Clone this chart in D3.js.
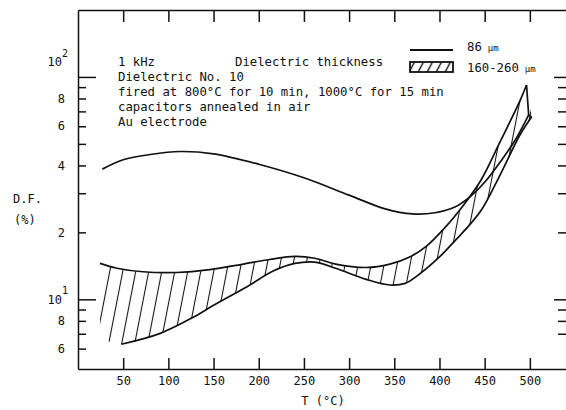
<!DOCTYPE html>
<html>
<head>
<meta charset="utf-8">
<script src="https://cdn.jsdelivr.net/npm/d3@7"></script>
<style>
  body { margin: 0; background: #fff; }
  text { font-family: "DejaVu Sans Mono", monospace; fill: #111; }
</style>
</head>
<body>
<script>
// T (degC) ticks along the bottom / top
const tTicks = [50, 100, 150, 200, 250, 300, 350, 400, 450, 500];
const yMajor = [10, 100];
const yMinor = [6, 7, 8, 9, 20, 30, 40, 50, 60, 70, 80, 90];
const yLabelValues = [100, 80, 60, 40, 20, 10, 8, 6];
const yLabelBase = ['10', '8', '6', '4', '2', '10', '8', '6'];
const yLabelExp = ['2', '', '', '', '', '1', '', ''];

// 86 um dielectric, D.F. (%) vs T
const thin86 = [
  [27, 38.5], [50, 42.4], [80, 44.8], [113, 46.2], [150, 45.1], [201, 40.4],
  [250, 35.2], [300, 29.4], [340, 25.5], [370, 24.2], [395, 24.5], [417, 26.0],
  [435, 29.2], [450, 33.6], [470, 43], [485, 53], [498.7, 67.5]
];

// 160-260 um band: upper and lower edges
const bandUpper = [
  [24.3, 14.5], [43, 13.8], [72, 13.3], [109, 13.2], [146, 13.6], [183, 14.4],
  [212, 15.1], [240, 15.6], [262, 15.3], [285, 14.4], [319, 13.9], [345, 14.4],
  [367, 15.5], [386, 17.4], [406, 21.0], [428, 27], [446, 34.4], [467, 51],
  [489, 78], [496.3, 92]
];
const bandLower = [
  [48, 6.28], [91, 7.03], [127.5, 8.3], [150, 9.4], [187, 11.4], [216, 13.4],
  [240, 14.5], [262, 14.7], [285, 13.8], [319, 12.3], [345, 11.6], [362, 11.8],
  [378, 13.0], [400, 15.5], [418, 18.5], [435, 22], [448, 25.8], [467, 36.2],
  [489, 54.8], [502, 66]
];
// where the hatching runs out below the band on the left (no edge drawn)
const hatchFloor = [[24.3, 6.6], [40, 6.38]];

const width = 566, height = 410;
const svg = d3.select('body').append('svg')
  .attr('width', width)
  .attr('height', height);

const x = d3.scaleLinear().domain([0, 540]).range([78, 566]);
const y = d3.scaleLog().domain([4.86, 200]).range([369, 10]);

const line = d3.line()
  .x(d => x(d[0]))
  .y(d => y(d[1]))
  .curve(d3.curveCatmullRom.alpha(0.5));

const defs = svg.append('defs');

defs.append('pattern')
  .attr('id', 'hatch')
  .attr('patternUnits', 'userSpaceOnUse')
  .attr('width', 13)
  .attr('height', 20)
  .attr('patternTransform', 'skewX(-11)')
  .append('line')
    .attr('x1', 6.5).attr('x2', 6.5)
    .attr('y1', 0).attr('y2', 20)
    .attr('stroke', '#111')
    .attr('stroke-width', 1.1);

defs.append('pattern')
  .attr('id', 'hatchKey')
  .attr('patternUnits', 'userSpaceOnUse')
  .attr('width', 9)
  .attr('height', 20)
  .attr('patternTransform', 'translate(410,62) skewX(-28)')
  .append('line')
    .attr('x1', 4.5).attr('x2', 4.5)
    .attr('y1', 0).attr('y2', 20)
    .attr('stroke', '#111')
    .attr('stroke-width', 1.6);

// band outline for the hatching
const bandPath = line(bandUpper)
  + line(hatchFloor.concat(bandLower).reverse()).replace(/^M/, 'L')
  + 'Z';

defs.append('clipPath')
  .attr('id', 'bandClip')
  .append('path')
    .attr('d', bandPath);

svg.append('rect')
  .attr('x', 70).attr('y', 0)
  .attr('width', width).attr('height', height)
  .attr('fill', 'url(#hatch)')
  .attr('clip-path', 'url(#bandClip)');

// axes
const styleAxis = g => {
  g.attr('font-family', null).attr('font-size', null);
  g.selectAll('path, line').attr('stroke', '#111').attr('stroke-width', 1.5);
};

svg.append('g')
  .attr('transform', `translate(0,${y(200)})`)
  .call(d3.axisTop(x).tickValues(tTicks).tickSize(-12).tickSizeOuter(0).tickFormat(''))
  .call(styleAxis);

svg.append('g')
  .attr('transform', `translate(0,${y.range()[0]})`)
  .call(d3.axisBottom(x).tickValues(tTicks).tickSize(-11).tickSizeOuter(0).tickPadding(7))
  .call(styleAxis)
  .call(g => g.selectAll('text').attr('font-size', 12).attr('fill', '#111'));

svg.append('g')
  .attr('transform', `translate(${x(0)},0)`)
  .call(d3.axisLeft(y).tickValues(yMinor).tickSize(-8).tickSizeOuter(0).tickFormat(''))
  .call(styleAxis);

svg.append('g')
  .attr('transform', `translate(${x(0)},0)`)
  .call(d3.axisLeft(y).tickValues(yMajor).tickSize(-18).tickFormat(''))
  .call(styleAxis)
  .call(g => g.select('.domain').remove());

svg.append('g')
  .attr('transform', `translate(${x.range()[1]},0)`)
  .call(d3.axisRight(y).tickValues(yMinor.filter(v => v > 6)).tickSize(-8).tickFormat(''))
  .call(styleAxis)
  .call(g => g.select('.domain').remove());

svg.append('g')
  .attr('transform', `translate(${x.range()[1]},0)`)
  .call(d3.axisRight(y).tickValues(yMajor).tickSize(-12).tickFormat(''))
  .call(styleAxis)
  .call(g => g.select('.domain').remove());

// y tick labels, 10^n with raised exponent
const yl = svg.append('g').attr('font-size', 12).attr('text-anchor', 'end');
yLabelValues.forEach((v, i) => {
  const yy = y(v) + (v === 100 ? -15 : 0);
  yl.append('text')
    .attr('x', yLabelExp[i] ? 62 : 65)
    .attr('y', yy)
    .attr('dy', '0.35em')
    .text(yLabelBase[i]);
  if (yLabelExp[i]) {
    yl.append('text')
      .attr('x', 68)
      .attr('y', yy - 5)
      .attr('font-size', 10)
      .text(yLabelExp[i]);
  }
});

// axis titles
svg.append('text')
  .attr('x', 323).attr('y', 401)
  .attr('dy', '0.35em')
  .attr('text-anchor', 'middle')
  .attr('font-size', 12)
  .text('T (°C)');

svg.append('text')
  .attr('x', 13).attr('y', 199)
  .attr('dy', '0.35em')
  .attr('font-size', 12)
  .text('D.F.');

svg.append('text')
  .attr('x', 14).attr('y', 220)
  .attr('dy', '0.35em')
  .attr('font-size', 12)
  .text('(%)');

// curves
const curves = svg.append('g')
  .attr('fill', 'none')
  .attr('stroke', '#111')
  .attr('stroke-width', 1.7)
  .attr('stroke-linejoin', 'round');

curves.append('path').attr('d', line(thin86));
curves.append('path').attr('d', line(bandUpper));
curves.append('path').attr('d', line(bandLower));
curves.append('path')
  .attr('d', d3.line().x(d => x(d[0])).y(d => y(d[1]))([
    bandUpper[bandUpper.length - 1],
    thin86[thin86.length - 1],
    bandLower[bandLower.length - 1]
  ]));

// notes
const notes = [
  '1 kHz',
  'Dielectric No. 10',
  'fired at 800°C for 10 min, 1000°C for 15 min',
  'capacitors annealed in air',
  'Au electrode'
];
svg.append('g')
  .attr('font-size', 12.3)
  .selectAll('text')
  .data(notes)
  .join('text')
    .attr('x', 118)
    .attr('y', (d, i) => 66 + i * 15)
    .text(d => d);

svg.append('text')
  .attr('x', 235).attr('y', 66)
  .attr('font-size', 12.3)
  .text('Dielectric thickness');

// legend
const legend = svg.append('g').attr('font-size', 12.3);
legend.append('line')
  .attr('x1', 410).attr('x2', 453)
  .attr('y1', 50).attr('y2', 50)
  .attr('stroke', '#111').attr('stroke-width', 1.8);
legend.append('rect')
  .attr('x', 410).attr('y', 62)
  .attr('width', 43).attr('height', 10)
  .attr('fill', 'url(#hatchKey)')
  .attr('stroke', '#111').attr('stroke-width', 1.8);

const keyText = [['86', 'µm', 47], ['160-260', 'µm', 68]];
keyText.forEach(([a, b, yy]) => {
  const t = legend.append('text')
    .attr('x', 467).attr('y', yy)
    .attr('dy', '0.35em')
    .text(a);
  t.append('tspan')
    .attr('dx', 6)
    .attr('font-size', 9)
    .text(b);
});
</script>
</body>
</html>
